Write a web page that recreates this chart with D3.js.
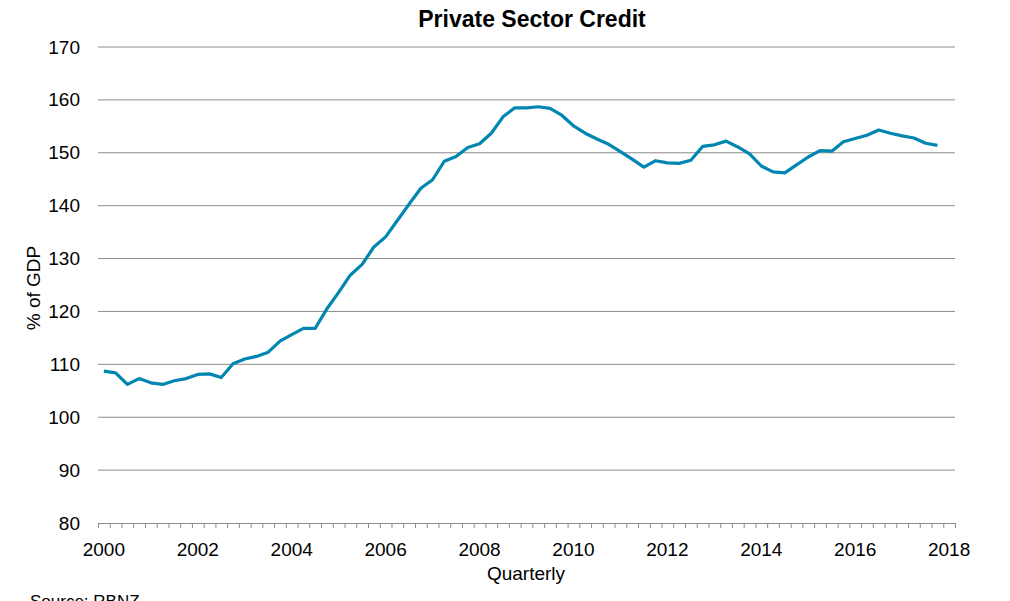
<!DOCTYPE html>
<html><head><meta charset="utf-8">
<script src="https://cdn.jsdelivr.net/npm/d3@7"></script>
<style>body{margin:0;background:#fff}svg{display:block;font-family:"Liberation Sans",Arial,sans-serif}</style>
</head><body><svg id="c" width="1010" height="601"></svg>
<script>
const title = "Private Sector Credit";
const yTicks = [80, 90, 100, 110, 120, 130, 140, 150, 160, 170];
const xLabels = [2000, 2002, 2004, 2006, 2008, 2010, 2012, 2014, 2016, 2018];
const startYear = 2000;
// Quarterly private sector credit, % of GDP, 2000Q1 - 2017Q4
const values = [
  108.7, 108.4, 106.2, 107.3, 106.5, 106.2, 106.9, 107.3,
  108.1, 108.2, 107.5, 110.1, 111.0, 111.5, 112.3, 114.4,
  115.6, 116.8, 116.8, 120.5, 123.6, 126.9, 128.9, 132.2,
  134.1, 137.2, 140.3, 143.3, 144.9, 148.4, 149.3, 151.0,
  151.7, 153.7, 156.8, 158.5, 158.5, 158.7, 158.4, 157.1,
  155.1, 153.7, 152.6, 151.6, 150.2, 148.8, 147.3, 148.5,
  148.1, 148.0, 148.6, 151.2, 151.5, 152.2, 151.1, 149.8,
  147.5, 146.4, 146.2, 147.7, 149.2, 150.4, 150.3, 152.1,
  152.7, 153.3, 154.3, 153.7, 153.2, 152.8, 151.8, 151.4
];
const nCats = 73; // 2000Q1 .. 2018Q1 category slots

const svg = d3.select("#c");
const L = 98, R = 955, T = 47, B = 523;
const x = d3.scaleLinear().domain([startYear - 0.125, startYear - 0.125 + nCats * 0.25]).range([L, R]);
const y = d3.scaleLinear().domain([80, 170]).range([B, T]);

// gridlines
svg.append("g").selectAll("line").data(yTicks.filter(d => d !== 80)).join("line")
  .attr("x1", L).attr("x2", R)
  .attr("y1", d => y(d)).attr("y2", d => y(d))
  .attr("stroke", "#8c8c8c").attr("stroke-width", 1);

// y axis labels
const yAxis = d3.axisLeft(y).tickValues(yTicks).tickSize(0).tickPadding(0);
const gy = svg.append("g").attr("transform", `translate(${L - 18},0)`).call(yAxis);
gy.select(".domain").remove();
gy.selectAll("text").attr("font-size", 19).attr("fill", "#000").attr("font-family", "Liberation Sans, Arial, sans-serif");

// x axis: category boundaries as ticks
const bounds = d3.range(nCats + 1).map(i => startYear - 0.125 + i * 0.25);
const xAxis = d3.axisBottom(x).tickValues(bounds).tickSize(5).tickFormat("");
const gx = svg.append("g").attr("transform", `translate(0,${B})`).call(xAxis);
gx.select(".domain").attr("stroke", "#8c8c8c").attr("d", `M${L},0.5H${R}`);
gx.selectAll(".tick line").attr("stroke", "#8c8c8c");

// x labels
svg.append("g").selectAll("text").data(xLabels).join("text")
  .attr("x", d => x(d)).attr("y", 556)
  .attr("text-anchor", "middle").attr("font-size", 19).attr("fill", "#000")
  .text(d => d);

// line
const line = d3.line().x((d, i) => x(startYear + i * 0.25)).y(d => y(d));
svg.append("path").datum(values).attr("d", line)
  .attr("fill", "none").attr("stroke", "#0086b0").attr("stroke-width", 3.2)
  .attr("stroke-linejoin", "round");

// titles
svg.append("text").attr("x", 532).attr("y", 27).attr("text-anchor", "middle")
  .attr("font-size", 23).attr("font-weight", "bold").text(title);
svg.append("text").attr("transform", "translate(40,288) rotate(-90)")
  .attr("text-anchor", "middle").attr("font-size", 19).text("% of GDP");
svg.append("text").attr("x", 526).attr("y", 580).attr("text-anchor", "middle")
  .attr("font-size", 19).text("Quarterly");
svg.append("text").attr("x", 30).attr("y", 607).attr("font-size", 17).text("Source: RBNZ");
</script></body></html>
